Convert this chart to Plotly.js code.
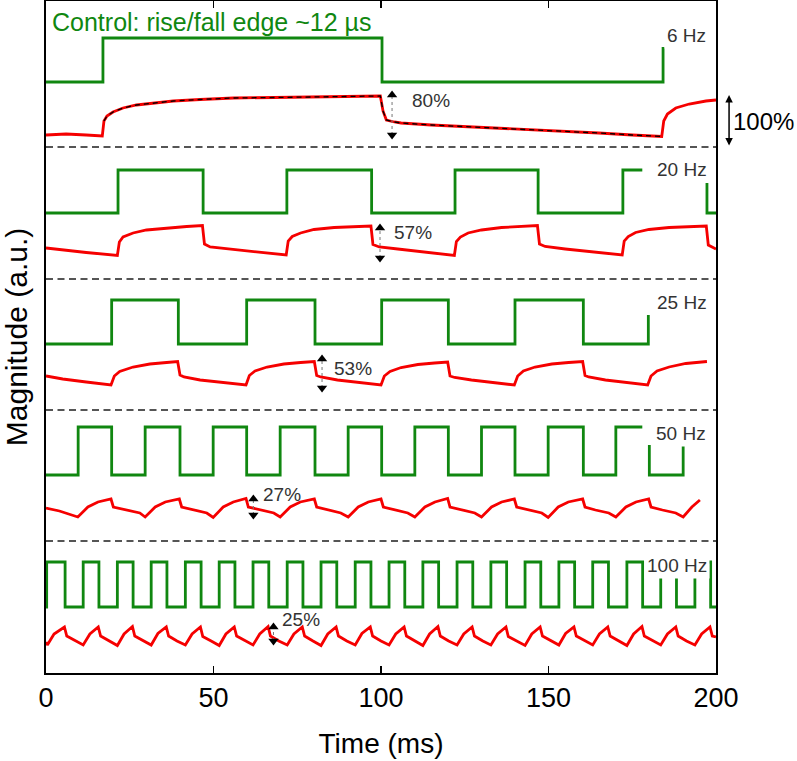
<!DOCTYPE html>
<html>
<head>
<meta charset="utf-8">
<script src="https://cdn.plot.ly/plotly-3.0.1.min.js"></script>
<style>body{margin:0;background:#fff}</style>
</head>
<body>
<div id="chart" style="width:797px;height:761px"></div>
<script>
// time axis (ms)
let xTicks = [0, 50, 100, 150, 200]

// dashed separators between the five traces (a.u.)
let sepY = [526, 394, 263, 132]

// control (green) square waves: edge times, low / high levels
let g6Edges = [17, 100.3]
let g6Lo = 591, g6Hi = 635, g6End = 184.2
let g6TailT = [184.2], g6TailY = [626]

let g20Edges = [21.5, 46.9, 71.9, 97.2, 122.1, 146.9, 172.2]
let g20Lo = 460, g20Hi = 503, g20End = 178
let g20TailT = [null, 197.3, 197.3, 200], g20TailY = [null, 490, 460, 460]

let g25Edges = [19.6, 39.5, 59.9, 80.3, 100.2, 120.1, 140, 160.4]
let g25Lo = 329, g25Hi = 373, g25End = 179.8
let g25TailT = [179.8], g25TailY = [358]

let g50Edges = [9.6, 19.6, 29.6, 40, 49.9, 59.9, 69.9, 80.3, 90.2, 100.2, 110.1, 120.1, 130, 140, 149.9, 160.4, 170.1]
let g50Lo = 198, g50Hi = 246, g50End = 178
let g50TailT = [null, 180.1, 180.1, 190.2, 190.2], g50TailY = [null, 228, 198, 198, 228]

let g100Edges = [0.2, 5.7, 11.1, 15.8, 21.3, 26.0, 31.4, 36.1, 41.6, 46.3, 51.7, 56.4, 61.8, 66.5, 72.0, 76.7, 82.1, 86.8, 92.3, 97.0,
  102.4, 107.1, 112.5, 117.2, 122.7, 127.4, 132.8, 137.5, 143.0, 147.7, 153.1, 157.8, 163.2, 167.9, 173.4, 178.1, 183.5, 188.2, 193.7, 198.4]
let g100Lo = 66, g100Hi = 111, g100End = 200

// response (red) traces
let r6T = [0, 6, 12, 16.8, 17.3, 18.2, 20, 23, 27, 32, 38, 46, 56, 68, 82, 99.8, 100.6, 101.6, 104, 106, 115, 125, 135, 150, 165, 175, 183.8, 184.4, 185.5, 188, 192, 197, 200]
let r6Y = [538, 539, 538, 537, 552, 557, 561, 565, 568, 570, 572, 573.5, 575, 575.5, 576, 577, 562, 553, 551, 550, 548, 546.5, 545, 542.5, 540, 538, 536.5, 552, 559, 565, 569, 572, 573]
let fit6T = [17.3, 18.2, 20, 23, 27, 32, 38, 46, 56, 68, 82, 99.8, 100.6, 101.6, 104, 106, 115, 125, 135, 150, 165, 175, 183.8]
let fit6Y = [552, 557, 561, 565, 568, 570, 572, 573.5, 575, 575.5, 576, 577, 562, 553, 551, 550, 548, 546.5, 545, 542.5, 540, 538, 536.5]

let r20T = [0, 5, 12, 21.3, 21.9, 23, 26, 30, 36, 42, 46.7, 47.3, 49, 55, 62, 71.7, 72.3, 73.5, 76, 80, 86, 92, 97, 97.6, 99.5, 105, 113, 121.9, 122.5, 123.7,
  126, 130, 136, 142, 146.7, 147.3, 149, 155, 163, 172, 172.6, 173.8, 176, 180, 186, 192, 197.1, 197.7, 199, 200]
let r20Y = [425, 423, 420.5, 417.5, 431, 436, 440, 443, 445, 446.5, 447.5, 429, 426, 424, 421, 418, 432, 436.5, 440, 443.5, 445.5, 446.5, 447, 428.5, 426, 424, 421, 417.5, 431.5, 436,
  440, 443, 445.5, 447, 447.5, 429, 426.5, 424, 421, 418, 432, 436.5, 440.5, 443.5, 445.5, 446.5, 447, 428, 426, 424]

let r25T = [0, 5, 12, 19.4, 20.4, 22, 26, 31, 36, 39.3, 40, 41.2, 46, 54, 59.7, 60.7, 62.4, 66, 71, 76, 80.1, 80.8, 82, 87, 95, 100, 101, 102.7, 106, 111,
  116, 119.9, 120.6, 122, 127, 135, 139.8, 140.8, 142.5, 146, 151, 156, 160.2, 160.9, 162, 167, 175, 179.6, 180.6, 182.4, 186, 191, 197.3]
let r25Y = [297, 294, 291, 288, 297, 301.5, 306, 309, 310.5, 311.5, 298, 296, 293, 290.5, 288, 297.5, 302, 306, 309, 310.5, 311.5, 297.5, 296, 293, 290, 288, 297, 301.5, 305.5, 308.5,
  310, 311, 297, 295.5, 293, 290, 288, 297, 302, 306, 309, 310.5, 311.5, 297.5, 296, 293, 290, 288, 297, 302, 306, 309.5, 311.5]

let r50T = [0, 4, 9.5, 12.5, 15.5, 19.4, 20.1, 24, 28, 29.6, 32.6, 35.6, 39.8, 40.5, 44, 48, 49.9, 52.9, 55.9, 59.7, 60.4, 64, 68, 69.9, 72.9, 75.9, 80.1, 80.8, 84, 88,
  90.2, 93.2, 96.2, 100, 100.7, 104, 108, 110.1, 113.1, 116.1, 119.9, 120.6, 124, 128, 130, 133, 136, 139.8, 140.5, 144,
  148, 149.9, 152.9, 155.9, 160.2, 160.9, 164, 168, 170.1, 173.1, 176.1, 179.9, 180.6, 184, 188, 190.2, 192.8, 195.2]
let r50Y = [165, 162, 156, 166, 171, 174, 166, 163, 160, 156, 166, 171, 174, 166, 163, 160, 155.5, 166, 171, 174.5, 166, 163, 160, 156, 166, 171, 174, 166, 163, 160,
  156, 166, 171, 174, 166, 163, 160, 156, 166, 171, 174.5, 166, 163, 160, 156, 166, 171, 174, 166, 163,
  160, 155.5, 166, 171, 174, 166, 163, 160, 156, 166, 171, 174, 166, 163, 160, 156, 166, 173]

let r100T = [0, 0.4, 2.4, 5.5, 6.2, 8.7, 11.1, 13.1, 15.6, 16.3, 18.8, 21.3, 23.3, 25.8, 26.5, 29, 31.4, 33.4, 35.9, 36.6, 39.1,
  41.6, 43.6, 46.1, 46.8, 49.3, 51.7, 53.7, 56.2, 56.9, 59.4, 61.8, 63.8, 66.3, 67, 69.5, 72, 74, 76.5, 77.2, 79.7,
  82.1, 84.1, 86.6, 87.3, 89.8, 92.3, 94.3, 96.8, 97.5, 100, 102.4, 104.4, 106.9, 107.6, 110.1, 112.5, 114.5, 117, 117.7, 120.2,
  122.7, 124.7, 127.2, 127.9, 130.4, 132.8, 134.8, 137.3, 138, 140.5, 143, 145, 147.5, 148.2, 150.7, 153.1, 155.1, 157.6, 158.3, 160.8,
  163.2, 165.2, 167.7, 168.4, 170.9, 173.4, 175.4, 177.9, 178.6, 181.1, 183.5, 185.5, 188, 188.7, 191.2, 193.7, 195.7, 198.2, 198.9, 200]
let r100Y = [31, 28, 39, 46, 37, 32, 28, 39, 46, 37, 32, 27.5, 39, 46.5, 37, 32, 28, 39.5, 46, 37, 32,
  28, 39, 46, 36.5, 32, 27.5, 39, 46, 37, 32, 28, 39, 46.5, 37, 32, 28, 39, 46, 37, 32,
  27.5, 39, 46, 37, 32, 28, 39.5, 46, 37, 32, 28, 39, 46, 37, 32, 27.5, 39, 46.5, 37, 32,
  28, 39, 46, 37, 32, 28, 39, 46, 36.5, 32, 27.5, 39, 46, 37, 32, 28, 39.5, 46, 37, 32,
  28, 39, 46, 37, 32, 27.5, 39, 46.5, 37, 32, 28, 39, 46, 37, 32, 28, 39, 46, 37, 36]

// modulation depth markers
let pctLabels = ['80%', '57%', '53%', '27%', '25%']
let pctT = [103.3, 99.7, 82.4, 61.9, 67.9]
let pctTop = [578, 445, 314, 174, 46]
let pctBot = [538, 415, 285, 158, 32]
let pctTextT = [114.8, 109.5, 91.6, 70.4, 76.1]
let pctTextY = [573, 441, 305, 179, 54]

// frequency labels
let hzLabels = ['6 Hz', '20 Hz', '25 Hz', '50 Hz', '100 Hz']
let hzT = [191.3, 189.7, 189.9, 189.6, 188.4]
let hzY = [638, 504, 371, 240, 108]

// 100% scale bar (outside the plot, right)
let barT = 203.9, barTop = 578, barBot = 526, barTextT = 214.3

let green = 'rgb(16,135,16)'
let red = 'rgb(245,0,0)'

function square(edges, lo, hi, tEnd, tailT, tailY) {
  let x = [0], y = [lo], cur = lo
  edges.forEach(function (e) {
    x.push(e); y.push(cur)
    cur = (cur === lo) ? hi : lo
    x.push(e); y.push(cur)
  })
  x.push(tEnd); y.push(cur)
  return {x: x.concat(tailT || []), y: y.concat(tailY || [])}
}

let traces = []

sepY.forEach(function (v) {
  traces.push({x: [0, 200], y: [v, v], mode: 'lines', line: {color: '#555', width: 1.8, dash: '7px,4.5px'}, hoverinfo: 'skip'})
})

let greens = [
  square(g6Edges, g6Lo, g6Hi, g6End, g6TailT, g6TailY),
  square(g20Edges, g20Lo, g20Hi, g20End, g20TailT, g20TailY),
  square(g25Edges, g25Lo, g25Hi, g25End, g25TailT, g25TailY),
  square(g50Edges, g50Lo, g50Hi, g50End, g50TailT, g50TailY),
  square(g100Edges, g100Lo, g100Hi, g100End)
]
greens.forEach(function (g) {
  traces.push({x: g.x, y: g.y, mode: 'lines', connectgaps: false, line: {color: green, width: 2.8}})
})

let reds = [[r6T, r6Y], [r20T, r20Y], [r25T, r25Y], [r50T, r50Y], [r100T, r100Y]]
reds.forEach(function (r) {
  traces.push({x: r[0], y: r[1], mode: 'lines', line: {color: red, width: 2.8}})
})

traces.push({x: fit6T, y: fit6Y, mode: 'lines', line: {color: '#000', width: 1.3, dash: '5px,4px'}})

pctT.forEach(function (t, i) {
  traces.push({x: [t, t], y: [pctBot[i], pctTop[i]], mode: 'lines', line: {color: '#777', width: 1, dash: 'dot'}})
})
traces.push({x: pctT, y: pctTop, mode: 'markers', marker: {symbol: 'triangle-up', size: 9, color: '#000'}})
traces.push({x: pctT, y: pctBot, mode: 'markers', marker: {symbol: 'triangle-down', size: 9, color: '#000'}})

let annotations = []
annotations.push({
  x: 1.2, y: 651, xref: 'x', yref: 'y', xanchor: 'left', yanchor: 'middle', showarrow: false,
  text: 'Control: rise/fall edge ~12 \u00b5s', font: {size: 25, color: green}
})
hzLabels.forEach(function (h, i) {
  annotations.push({
    x: hzT[i], y: hzY[i], xref: 'x', yref: 'y', showarrow: false, text: h,
    bgcolor: '#fff', borderpad: 2, font: {size: 19, color: '#333'}
  })
})
pctLabels.forEach(function (p, i) {
  annotations.push({
    x: pctTextT[i], y: pctTextY[i], xref: 'x', yref: 'y', showarrow: false, text: p,
    font: {size: 19, color: '#333'}
  })
})
annotations.push({
  x: barT / 200, y: barTop, xref: 'paper', yref: 'y', ax: 0, ay: barBot, ayref: 'y',
  text: '', showarrow: true, arrowside: 'end+start', arrowhead: 2, arrowsize: 1, arrowwidth: 1.5, arrowcolor: '#000'
})
annotations.push({
  x: barTextT / 200, y: (barTop + barBot) / 2, xref: 'paper', yref: 'y', xanchor: 'center', yanchor: 'middle',
  showarrow: false, text: '100%', font: {size: 24, color: '#000'}
})

let layout = {
  width: 797, height: 761,
  margin: {l: 46, r: 81, t: 1, b: 88},
  paper_bgcolor: '#fff', plot_bgcolor: '#fff',
  showlegend: false,
  font: {family: 'Liberation Sans, Arial, sans-serif', color: '#000'},
  xaxis: {
    range: [0, 200], tickvals: xTicks,
    ticks: 'inside', ticklen: 7, tickwidth: 1.5, tickcolor: '#000',
    showline: true, linecolor: '#000', linewidth: 2, mirror: 'ticks',
    showgrid: false, zeroline: false,
    tickfont: {size: 27},
    title: {text: 'Time (ms)', font: {size: 28}, standoff: 21}
  },
  yaxis: {
    range: [0, 672], showticklabels: false, ticks: '', showgrid: false, zeroline: false,
    showline: true, linecolor: '#000', linewidth: 2, mirror: true,
    title: {text: 'Magnitude (a.u.)', font: {size: 30}, standoff: 8}
  },
  annotations: annotations
}

Plotly.newPlot('chart', traces, layout, {displayModeBar: false, staticPlot: true})
</script>
</body>
</html>
